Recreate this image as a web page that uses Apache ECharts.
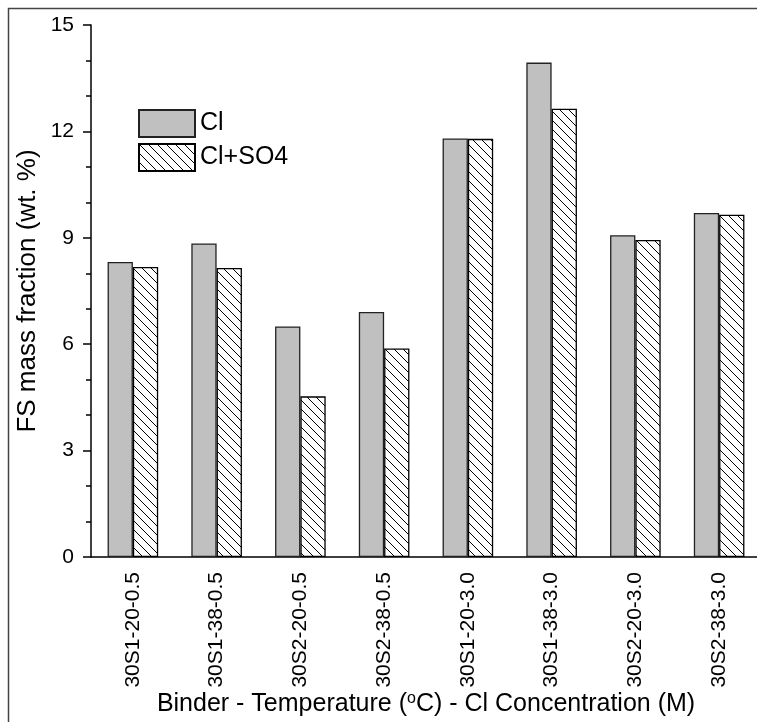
<!DOCTYPE html>
<html>
<head>
<meta charset="utf-8">
<script src="https://cdn.jsdelivr.net/npm/echarts@6/dist/echarts.min.js"></script>
<style>
html,body{margin:0;padding:0;background:#fff;}
#chart{width:757px;height:722px;}
</style>
</head>
<body>
<div id="chart"></div>
<script>
const categories = ['30S1-20-0.5','30S1-38-0.5','30S2-20-0.5','30S2-38-0.5','30S1-20-3.0','30S1-38-3.0','30S2-20-3.0','30S2-38-3.0'];
const clValues = [8.32, 8.84, 6.50, 6.91, 11.80, 13.94, 9.07, 9.70];
const clSo4Values = [8.18, 8.15, 4.53, 5.88, 11.79, 12.64, 8.94, 9.65];
const yTicks = [0, 3, 6, 9, 12, 15];

function hatch() {
  const s = 9;
  const c = document.createElement('canvas');
  c.width = s; c.height = s;
  const ctx = c.getContext('2d');
  ctx.fillStyle = '#fff';
  ctx.fillRect(0, 0, s, s);
  ctx.strokeStyle = '#000';
  ctx.lineWidth = 1;
  for (const k of [-s, 0, s]) {
    ctx.beginPath();
    ctx.moveTo(k, 0);
    ctx.lineTo(k + s, s);
    ctx.stroke();
  }
  return c;
}

const font = 'Liberation Sans, Arial, sans-serif';
const chart = echarts.init(document.getElementById('chart'), null, {renderer: 'canvas'});
chart.setOption({
  backgroundColor: '#fff',
  animation: false,
  textStyle: {fontFamily: font, color: '#000'},
  graphic: [{
    type: 'rect', silent: true,
    shape: {x: 8.5, y: 8.5, width: 800, height: 760},
    style: {fill: 'none', stroke: '#444', lineWidth: 1.5}
  }],
  legend: {
    orient: 'vertical', left: 133, top: 104,
    itemWidth: 56, itemHeight: 27, itemGap: 5,
    icon: 'rect',
    textStyle: {fontSize: 25, fontFamily: font, color: '#000'},
    data: ['Cl', 'Cl+SO4']
  },
  grid: {left: 91, top: 25, width: 670, height: 532, outerBoundsMode: 'none', containLabel: false},
  xAxis: [{
    type: 'category', data: categories, position: 'bottom',
    name: 'Binder - Temperature ({sup|o}C) - Cl Concentration (M)',
    nameLocation: 'middle', nameGap: 134, nameMoveOverlap: false,
    nameTextStyle: {fontSize: 25, fontFamily: font, color: '#000', verticalAlign: 'top',
      rich: {sup: {fontSize: 16, verticalAlign: 'top', padding: [0, 0, 10, 0], fontFamily: font, color: '#000'}}},
    axisLine: {lineStyle: {color: '#000', width: 1.5}},
    axisTick: {alignWithLabel: true, inside: false, length: 8, lineStyle: {color: '#000', width: 1.5}},
    axisLabel: {rotate: 90, margin: 15, fontSize: 21, fontFamily: font, color: '#000', interval: 0},
    splitLine: {show: false}
  }, {
    type: 'category', data: categories, position: 'bottom',
    axisLine: {show: false},
    axisTick: {alignWithLabel: false, inside: false, length: 5, lineStyle: {color: '#000', width: 1.5}},
    axisLabel: {show: false},
    splitLine: {show: false}
  }],
  yAxis: {
    type: 'value', min: yTicks[0], max: yTicks[yTicks.length - 1], interval: 3,
    name: 'FS mass fraction (wt. %)', nameLocation: 'middle', nameGap: 50, nameMoveOverlap: false,
    nameTextStyle: {fontSize: 26, fontFamily: font, color: '#000'},
    axisLine: {show: true, lineStyle: {color: '#000', width: 1.5}},
    axisTick: {show: true, length: 8, lineStyle: {color: '#000', width: 1.5}},
    minorTick: {show: true, splitNumber: 3, length: 5, lineStyle: {color: '#000', width: 1.5}},
    axisLabel: {margin: 17, fontSize: 21, fontFamily: font, color: '#000'},
    splitLine: {show: false}
  },
  series: [{
    name: 'Cl', type: 'bar', data: clValues, barWidth: 25.3, barGap: '0%',
    itemStyle: {color: '#c0c0c0', borderColor: '#222', borderWidth: 1.3}
  }, {
    name: 'Cl+SO4', type: 'bar', data: clSo4Values, barWidth: 25.3, barGap: '0%',
    itemStyle: {color: {image: hatch(), repeat: 'repeat'}, borderColor: '#000', borderWidth: 1.3}
  }]
});
</script>
</body>
</html>
